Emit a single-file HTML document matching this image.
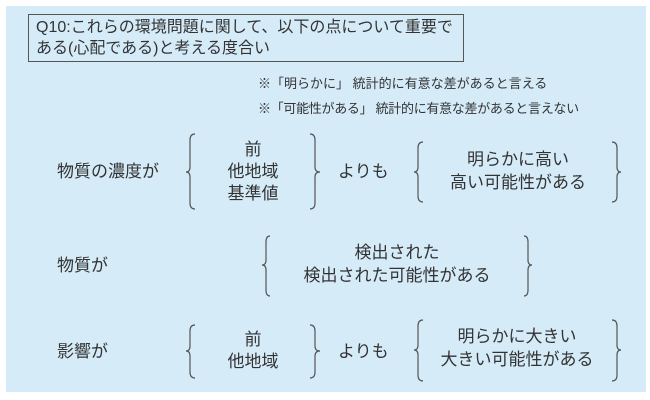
<!DOCTYPE html>
<html><head><meta charset="utf-8"><style>
body{margin:0;background:#fff;width:650px;height:400px;position:relative;overflow:hidden;font-family:"Liberation Sans","Noto Sans CJK JP",sans-serif;color:#333}
#p{position:absolute;left:6px;top:6px;width:640px;height:386px;background:#d5ebf8}
.t{position:absolute;white-space:nowrap;font-size:17px;line-height:22px;transform:translate(-50%,-50%);text-align:center}
.l{position:absolute;white-space:nowrap;font-size:17px;line-height:22px;transform:translateY(-50%)}
#box{position:absolute;left:28px;top:14px;width:436px;height:48px;border:1px solid #555;font-size:16px;line-height:21px;padding:2px 0 0 7px;box-sizing:border-box;white-space:nowrap}
.n{position:absolute;font-size:13px;white-space:nowrap}
</style></head><body>
<div id="p"></div>
<div id="box">Q10:これらの環境問題に関して、以下の点について重要で<br>ある(心配である)と考える度合い</div>
<div class="n" style="left:258px;top:73px">※「明らかに」 統計的に有意な差があると言える</div>
<div class="n" style="left:258px;top:98px;letter-spacing:-0.3px">※「可能性がある」 統計的に有意な差があると言えない</div>

<div class="l" style="left:57px;top:172px">物質の濃度が</div>
<div class="t" style="left:253px;top:150px">前</div>
<div class="t" style="left:253px;top:172px">他地域</div>
<div class="t" style="left:253px;top:194px">基準値</div>
<div class="l" style="left:338px;top:172px">よりも</div>
<div class="t" style="left:518px;top:160px">明らかに高い</div>
<div class="t" style="left:518px;top:183px">高い可能性がある</div>

<div class="l" style="left:57px;top:266px">物質が</div>
<div class="t" style="left:397px;top:253px">検出された</div>
<div class="t" style="left:397px;top:276px">検出された可能性がある</div>

<div class="l" style="left:57px;top:352px">影響が</div>
<div class="t" style="left:253px;top:340px">前</div>
<div class="t" style="left:253px;top:362px">他地域</div>
<div class="l" style="left:338px;top:352px">よりも</div>
<div class="t" style="left:517px;top:337px">明らかに大きい</div>
<div class="t" style="left:517px;top:360px">大きい可能性がある</div>

<svg width="650" height="400" style="position:absolute;left:0;top:0" fill="none" stroke="#555" stroke-width="1.2">
<path d="M195 134 Q190 134 190 140 L190 167 Q190 172 186 172 Q190 172 190 177 L190 203 Q190 209 195 209"/>
<path d="M310 134 Q315 134 315 140 L315 167 Q315 172 320 172 Q315 172 315 177 L315 203 Q315 209 310 209"/>
<path d="M423 142 Q418 142 418 148 L418 167 Q418 172 414 172 Q418 172 418 177 L418 196 Q418 202 423 202"/>
<path d="M612 142 Q617 142 617 148 L617 167 Q617 172 621 172 Q617 172 617 177 L617 196 Q617 202 612 202"/>

<path d="M270 236 Q266 236 266 242 L266 260 Q266 265 262 265 Q266 265 266 270 L266 290 Q266 296 270 296"/>
<path d="M524 236 Q528 236 528 242 L528 260 Q528 265 532 265 Q528 265 528 270 L528 290 Q528 296 524 296"/>

<path d="M195 325 Q190 325 190 331 L190 346 Q190 351 186 351 Q190 351 190 356 L190 372 Q190 378 195 378"/>
<path d="M310 325 Q315 325 315 331 L315 346 Q315 351 320 351 Q315 351 315 356 L315 372 Q315 378 310 378"/>
<path d="M423 320 Q418 320 418 326 L418 345 Q418 350 414 350 Q418 350 418 355 L418 375 Q418 381 423 381"/>
<path d="M612 320 Q617 320 617 326 L617 345 Q617 350 621 350 Q617 350 617 355 L617 375 Q617 381 612 381"/>
</svg>
</body></html>
